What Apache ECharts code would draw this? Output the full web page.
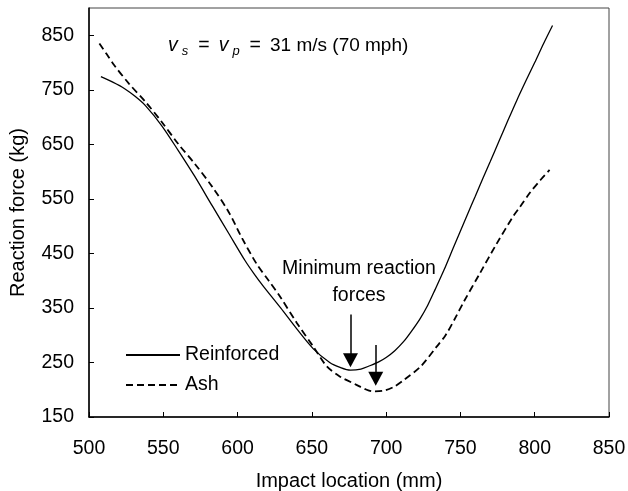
<!DOCTYPE html>
<html>
<head>
<meta charset="utf-8">
<script src="https://cdn.jsdelivr.net/npm/echarts@6/dist/echarts.min.js"></script>
<style>html,body{margin:0;padding:0;background:#fff;}#c{width:628px;height:491px;}</style>
</head>
<body>
<div id="c"></div>
<script>
const FONT = "'Liberation Sans', Arial, sans-serif";
const seriesNames = ['Reinforced', 'Ash'];
const reinforcedX = [508,516,524,531,538,549,560,571,583,594,605,611,617,629,640,651,662,669,676,683,689,695,700,706,712,717,723,728,733,739,745,750,755,760,765,770,776,782,788,794,800,806,812];
const reinforcedY = [774,764,752,738,721,684,639,592,537,487,437,413,391,350,311,275,250,241,236,238,244,251,259,272,289,307,331,355,384,420,459,491,523,555,587,618,656,694,731,766,800,835,868];
const ashX = [507,512,517,527,538,549,560,571,583,594,603,613,621,629,640,651,660,669,680,686,691,698,705,712,723,734,740,747,752,763,774,786,790,797,804,810];
const ashY = [835,815,795,761,728,691,651,615,572,526,478,430,400,369,322,279,243,224,209,201,197,198,205,218,242,279,300,334,360,413,466,520,535,562,585,603];
const xTicks = {min: 500, max: 850, interval: 50};
const yTicks = {min: 150, max: 900, interval: 100};
const xName = 'Impact location (mm)';
const yName = 'Reaction force (kg)';
const annotationText = 'Minimum reaction\nforces';
// arrows: [x, top, end]
const arrow1 = [676, 338, 254];
const arrow2 = [693, 282, 220];

const zip = (xs, ys) => xs.map((x, i) => [x, ys[i]]);

const chart = echarts.init(document.getElementById('c'), null, {renderer: 'canvas'});
chart.setOption({
  animation: false,
  backgroundColor: '#fff',
  textStyle: {fontFamily: FONT},
  grid: {left: 89, right: 19, top: 8, bottom: 74, show: true, borderColor: '#444', borderWidth: 1, backgroundColor: 'transparent', containLabel: false, outerBoundsMode: 'none'},
  xAxis: {
    type: 'value', min: xTicks.min, max: xTicks.max, interval: xTicks.interval,
    name: xName, nameLocation: 'middle', nameGap: 54,
    nameTextStyle: {fontSize: 20, color: '#000', fontFamily: FONT},
    axisLine: {show: true, lineStyle: {color: '#000', width: 1.5}},
    axisTick: {show: true, inside: true, length: 5, lineStyle: {color: '#000', width: 1}},
    axisLabel: {fontSize: 19.5, color: '#000', margin: 22, fontFamily: FONT},
    splitLine: {show: false}
  },
  yAxis: {
    type: 'value', min: yTicks.min, max: yTicks.max, interval: yTicks.interval,
    name: yName, nameLocation: 'middle', nameGap: 61, nameRotate: 90,
    nameTextStyle: {fontSize: 20, color: '#000', fontFamily: FONT},
    axisLine: {show: true, lineStyle: {color: '#000', width: 1.5}},
    axisTick: {show: true, inside: true, length: 5, lineStyle: {color: '#000', width: 1}},
    axisLabel: {fontSize: 19.5, color: '#000', margin: 15, showMaxLabel: false, fontFamily: FONT},
    splitLine: {show: false}
  },
  legend: {
    orient: 'vertical', left: 120, top: 340, itemWidth: 54, itemHeight: 19, itemGap: 10,
    textStyle: {fontSize: 19.5, color: '#000', fontFamily: FONT},
    itemStyle: {color: 'rgba(0,0,0,0)', borderColor: 'rgba(0,0,0,0)', borderWidth: 0},
    data: seriesNames
  },
  series: [
    {
      name: seriesNames[0], type: 'line', data: zip(reinforcedX, reinforcedY),
      showSymbol: false, symbol: 'none', smooth: 0.3,
      lineStyle: {color: '#000', width: 1.3}, itemStyle: {color: '#000'},
      markLine: {
        silent: true, symbol: ['none', 'triangle'], symbolSize: [15, 14],
        label: {show: false},
        lineStyle: {color: '#000', width: 1.5, type: 'solid'},
        data: [
          [{coord: [arrow1[0], arrow1[1]]}, {coord: [arrow1[0], arrow1[2]]}],
          [{coord: [arrow2[0], arrow2[1]]}, {coord: [arrow2[0], arrow2[2]]}]
        ]
      }
    },
    {
      name: seriesNames[1], type: 'line', data: zip(ashX, ashY),
      showSymbol: false, symbol: 'none', smooth: 0.3,
      lineStyle: {color: '#000', width: 1.8, type: [7, 4]}, itemStyle: {color: '#000'}
    }
  ],
  graphic: [
    {
      type: 'text', left: 168, top: 36,
      style: {
        text: '{v|v}{s|s}{e|=}{v|v}{s|p}{e|=}{n|31 m/s (70 mph)}',
        rich: {
          v: {fontSize: 19.5, fontStyle: 'italic', fontFamily: FONT, fill: '#000', color: '#000'},
          s: {fontSize: 13, fontStyle: 'italic', fontFamily: FONT, fill: '#000', color: '#000', padding: [10, 4, 0, 4]},
          e: {fontSize: 19.5, fontFamily: FONT, fill: '#000', color: '#000', padding: [0, 9, 0, 6]},
          n: {fontSize: 19, fontFamily: FONT, fill: '#000', color: '#000'}
        }
      }
    },
    {
      type: 'text', x: 359, y: 255,
      style: {text: annotationText, fontSize: 19.5, fontFamily: FONT, fill: '#000', align: 'center', verticalAlign: 'top', lineHeight: 27}
    }
  ]
});
</script>
</body>
</html>
